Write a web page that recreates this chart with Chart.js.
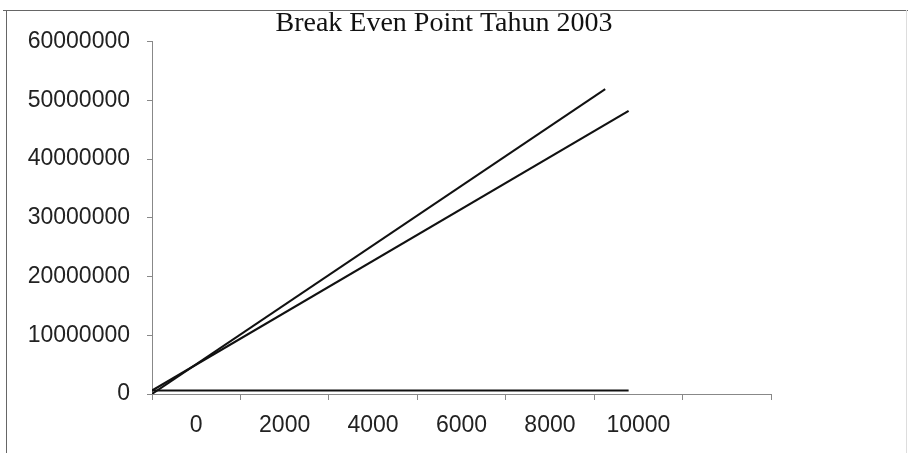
<!DOCTYPE html>
<html>
<head>
<meta charset="utf-8">
<script src="https://cdn.jsdelivr.net/npm/chart.js@4"></script>
<style>
  html, body { margin: 0; padding: 0; background: #fff; }
  #wrap { width: 908px; height: 453px; position: relative; }
</style>
</head>
<body>
<div id="wrap"><canvas id="bepChart"></canvas></div>
<script>
// values
var qtyRevenue = [-1000, 9250];
var revenue = [0, 51900000];
var qtyCost = [-1000, 9780];
var totalCost = [600000, 48200000];
var fixedCost = [600000, 600000];
var xTicks = [0, 2000, 4000, 6000, 8000, 10000, 12000];
var xTickLabels = ['0', '2000', '4000', '6000', '8000', '10000', ''];
var yTicks = [0, 10000000, 20000000, 30000000, 40000000, 50000000, 60000000];

function toPoints(xs, ys) {
  return xs.map((x, i) => ({ x: x, y: ys[i] }));
}

// thin frame of the scanned page (top and left edge)
var framePlugin = {
  id: 'frame',
  beforeDraw: function (chart) {
    var c = chart.ctx;
    c.save();
    c.strokeStyle = '#666';
    c.lineWidth = 1;
    c.beginPath();
    c.moveTo(3, 10.5);
    c.lineTo(908, 10.5);
    c.moveTo(6.5, 10);
    c.lineTo(6.5, 453);
    c.stroke();
    c.strokeStyle = '#ddd';
    c.beginPath();
    c.moveTo(906.5, 10);
    c.lineTo(906.5, 453);
    c.stroke();
    c.restore();
  }
};

var ctx = document.getElementById('bepChart');
var myChart = new Chart(ctx, {
  type: 'line',
  data: {
    datasets: [{
      label: 'Penjualan',
      data: toPoints(qtyRevenue, revenue),
      borderColor: '#111',
      borderWidth: 2
    }, {
      label: 'Total Biaya',
      data: toPoints(qtyCost, totalCost),
      borderColor: '#111',
      borderWidth: 2.2
    }, {
      label: 'Biaya Tetap',
      data: toPoints(qtyCost, fixedCost),
      borderColor: '#111',
      borderWidth: 2.2
    }]
  },
  options: {
    responsive: true,
    maintainAspectRatio: false,
    animation: false,
    elements: { point: { radius: 0 }, line: { tension: 0 } },
    layout: { padding: { left: 0, right: 20, top: 0, bottom: 0 } },
    plugins: {
      legend: { display: false },
      tooltip: { enabled: false },
      title: {
        display: true,
        text: 'Break Even Point Tahun 2003',
        color: '#111',
        font: { family: '"Liberation Serif", "Times New Roman", serif', size: 28, weight: 'normal' },
        padding: { top: 7, bottom: 1 }
      }
    },
    scales: {
      x: {
        type: 'linear',
        min: -1000,
        max: 13000,
        afterBuildTicks: function (scale) {
          scale.ticks = xTicks.map((v) => ({ value: v }));
        },
        afterFit: function (scale) { scale.height = 59; },
        border: { display: true, color: '#888', width: 1, dash: [5, 2] },
        grid: { display: true, offset: true, drawOnChartArea: false, drawTicks: true, tickLength: 6, color: '#888' },
        ticks: {
          padding: 12,
          maxRotation: 0,
          autoSkip: false,
          color: '#222',
          font: { family: '"Liberation Sans", Arial, sans-serif', size: 23 },
          callback: function (v, i) { return xTickLabels[i]; }
        }
      },
      y: {
        type: 'linear',
        min: 0,
        max: 60000000,
        afterBuildTicks: function (scale) {
          scale.ticks = yTicks.map((v) => ({ value: v }));
        },
        afterFit: function (scale) { scale.width = 152; },
        border: { display: true, color: '#888', width: 1 },
        grid: { display: true, drawOnChartArea: false, drawTicks: true, tickLength: 5, color: '#888' },
        ticks: {
          padding: 17,
          color: '#222',
          font: { family: '"Liberation Sans", Arial, sans-serif', size: 23 },
          callback: function (v) { return String(v); }
        }
      },
      // empty right-hand space of the chart box
      yRight: {
        type: 'linear',
        position: 'right',
        display: true,
        afterFit: function (scale) { scale.width = 117; },
        border: { display: false },
        grid: { display: false },
        ticks: { display: false }
      }
    }
  },
  plugins: [framePlugin]
});
</script>
</body>
</html>
